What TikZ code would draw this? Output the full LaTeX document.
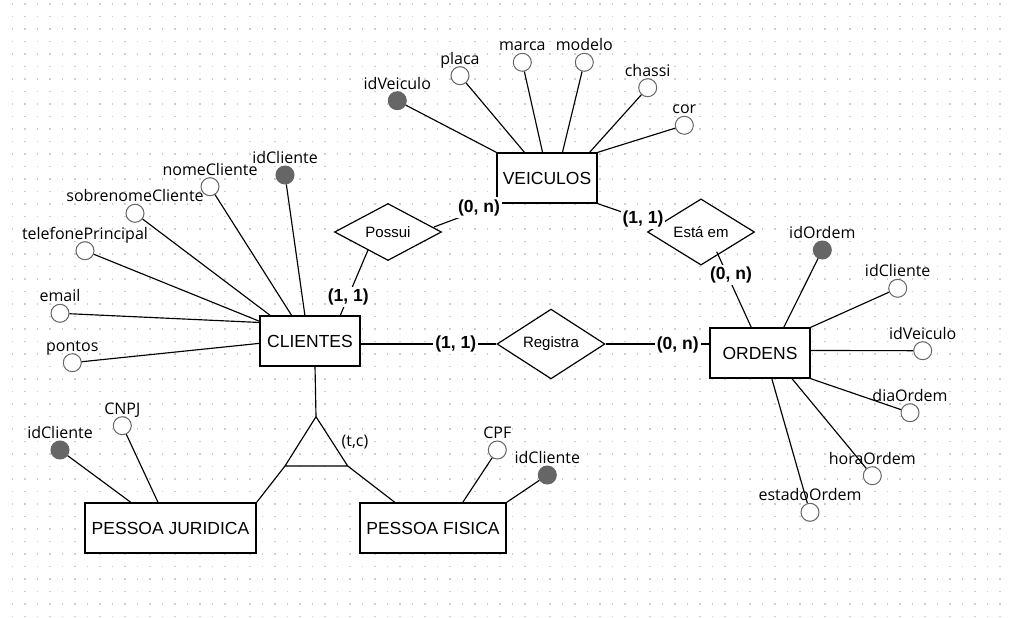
\documentclass[tikz,border=0pt]{standalone}
\usepackage{fontspec}
\setmainfont{Liberation Sans}
\newfontfamily\attrfont{Open Sans}
\usetikzlibrary{shapes.geometric}
\definecolor{attrgray}{HTML}{666666}
\definecolor{dotgray}{HTML}{CDCDCD}
\tikzset{
  entity/.style={draw=black, line width=1.3pt, fill=white, rectangle, minimum width=100pt, minimum height=50pt, inner sep=0pt, font=\fontsize{17.5}{17.5}\selectfont},
  rel/.style={draw=black, line width=1.2pt, fill=white, diamond, minimum width=107pt, minimum height=57pt, inner sep=0pt, font=\fontsize{15}{15}\selectfont},
  attr/.style={circle, draw=attrgray, line width=1pt, fill=white, minimum size=18pt, inner sep=0pt},
  keyattr/.style={attr, fill=attrgray},
  alabel/.style={anchor=base, inner sep=0pt, font=\attrfont\fontsize{16}{16}\selectfont},
  card/.style={fill=white, inner sep=2pt, font=\bfseries\fontsize{17.5}{17.5}\selectfont},
  conn/.style={draw=black, line width=1.15pt},
}
\newcommand\mkattr[5]{\node[#4] (#1) at (#2,#3) {}; \node[alabel] (#1-t) at (#2,#3-11.5) {#5};}
\begin{document}
\begin{tikzpicture}[x=1pt,y=-1pt]
\fill[white] (0,0) rectangle (1012,618);
\useasboundingbox (0,0) rectangle (1012,618);
\foreach \i in {1,...,80}{\foreach \j in {0,...,49}{\fill[dotgray] (12.5*\i-0.55,4+12.5*\j-0.55) rectangle ++(1.1,1.1);}}

% entities
\node[entity] (veic) at (547,178) {VEICULOS};
\node[entity] (cli) at (310,341) {CLIENTES};
\node[entity] (ord) at (760,353) {ORDENS};
\node[entity, minimum width=171pt] (pj) at (170.5,528) {PESSOA JURIDICA};
\node[entity, minimum width=146pt] (pf) at (433,528) {PESSOA FISICA};

% relationships
\node[rel] (possui) at (388,232) {Possui};
\node[rel] (estaem) at (701,232) {Está em};
\node[rel, minimum width=108pt] (registra) at (551,344) {Registra};

% VEICULOS attributes
\mkattr{vId}{397.3}{100.7}{keyattr}{idVeiculo}
\mkattr{vPlaca}{460}{75.7}{attr}{placa}
\mkattr{vMarca}{522.3}{62.3}{attr}{marca}
\mkattr{vModelo}{584.3}{62.3}{attr}{modelo}
\mkattr{vChassi}{647.7}{87.7}{attr}{chassi}
\mkattr{vCor}{684.3}{125.3}{attr}{cor}
\coordinate (v2) at (525,153);
\coordinate (v3) at (542.7,153);
\coordinate (v4) at (562.3,153);
\coordinate (v5) at (589,153);
\draw[conn] (vId) -- (veic.north west);
\draw[conn] (vPlaca) -- (v2);
\draw[conn] (vMarca) -- (v3);
\draw[conn] (vModelo) -- (v4);
\draw[conn] (vChassi) -- (v5);
\draw[conn] (vCor) -- (veic.north east);

% CLIENTES attributes
\mkattr{cId}{285}{175}{keyattr}{idCliente}
\mkattr{cNome}{210}{186.7}{attr}{nomeCliente}
\mkattr{cSobre}{135}{213.3}{attr}{sobrenomeCliente}
\mkattr{cTel}{85}{250.7}{attr}{telefonePrincipal}
\mkattr{cEmail}{60}{313.3}{attr}{email}
\mkattr{cPontos}{72.3}{362.7}{attr}{pontos}
\coordinate (c1) at (305,316);
\coordinate (c2) at (292,316);
\coordinate (c3) at (271,316);
\coordinate (c4) at (260,321.5);
\coordinate (c5) at (260,322.5);
\coordinate (c6) at (260,343.3);
\draw[conn] (cId) -- (c1);
\draw[conn] (cNome) -- (c2);
\draw[conn] (cSobre) -- (c3);
\draw[conn] (cTel) -- (c4);
\draw[conn] (cEmail) -- (c5);
\draw[conn] (cPontos) -- (c6);

% ORDENS attributes
\mkattr{oId}{822.3}{250}{keyattr}{idOrdem}
\mkattr{oCli}{897.7}{288.3}{attr}{idCliente}
\mkattr{oVeic}{922.7}{350.7}{attr}{idVeiculo}
\mkattr{oDia}{910}{412.7}{attr}{diaOrdem}
\mkattr{oHora}{872.3}{475.7}{attr}{horaOrdem}
\mkattr{oEstado}{810}{512.3}{attr}{estadoOrdem}
\coordinate (o1) at (783.3,328.3);
\coordinate (o3) at (810,350.5);
\coordinate (o5) at (791.7,378.3);
\coordinate (o6) at (771.7,378.3);
\draw[conn] (oId) -- (o1);
\draw[conn] (oCli) -- (ord.north east);
\draw[conn] (oVeic) -- (o3);
\draw[conn] (oDia) -- (ord.south east);
\draw[conn] (oHora) -- (o5);
\draw[conn] (oEstado) -- (o6);

% PESSOA JURIDICA / FISICA attributes
\mkattr{jId}{60}{450}{keyattr}{idCliente}
\mkattr{jCnpj}{122.3}{425.7}{attr}{CNPJ}
\mkattr{fCpf}{497.3}{450}{attr}{CPF}
\mkattr{fId}{547.3}{475}{keyattr}{idCliente}
\coordinate (j1) at (131.7,503);
\coordinate (j2) at (158.3,503);
\coordinate (f1) at (462.3,503);
\draw[conn] (jId) -- (j1);
\draw[conn] (jCnpj) -- (j2);
\draw[conn] (fCpf) -- (f1);
\draw[conn] (fId) -- (pf.north east);

% specialization triangle
\coordinate (tA) at (316,416.7);
\coordinate (tL) at (285,466);
\coordinate (tR) at (347.7,466);
\coordinate (cS) at (315,366);
\coordinate (pfN) at (395.7,503);
\draw[conn, line join=miter] (tA) -- (tL) -- (tR) -- cycle;
\draw[conn] (cS) -- (tA);
\draw[conn] (tL) -- (pj.north east);
\draw[conn] (tR) -- (pfN);
\node[alabel] (tc) at (355,446) {(t,c)};

% relationship connectors
\coordinate (pE) at (434,227);
\coordinate (pS) at (368,250);
\coordinate (cN) at (340,316);
\coordinate (eW) at (660,225);
\coordinate (eS) at (716.7,251.7);
\coordinate (oN) at (751.7,328.3);
\coordinate (cE) at (360,344);
\coordinate (oW) at (710,344);
\draw[conn] (pE) -- (veic.south west);
\draw[conn] (pS) -- (cN);
\draw[conn] (veic.south east) -- (eW);
\draw[conn] (eS) -- (oN);
\draw[conn] (cE) -- (registra.west);
\draw[conn] (registra.east) -- (oW);

% cardinalities
\node[card] (kPV) at (479,207.5) {(0, n)};
\node[card] (kVE) at (643,218.5) {(1, 1)};
\node[card] (kEO) at (731,275) {(0, n)};
\node[card] (kPC) at (348.3,297.3) {(1, 1)};
\node[card] (kCR) at (455.7,344) {(1, 1)};
\node[card] (kRO) at (677.7,345) {(0, n)};
\end{tikzpicture}
\end{document}
